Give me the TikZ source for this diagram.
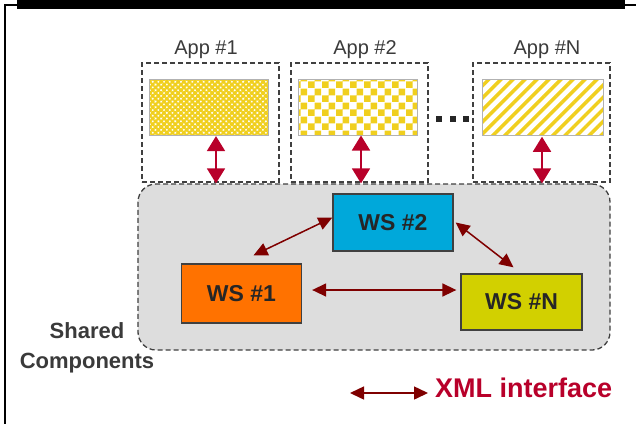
\documentclass[tikz,border=0pt]{standalone}
\usepackage{fontspec}
\setmainfont{Liberation Sans}
\usetikzlibrary{arrows.meta, patterns, patterns.meta, calc}
\definecolor{cyellow}{HTML}{F0CF1E}
\definecolor{cframe}{HTML}{404040}
\definecolor{cshared}{HTML}{DDDDDD}
\definecolor{cwsone}{HTML}{FF7200}
\definecolor{cwstwo}{HTML}{00A8DA}
\definecolor{cwsn}{HTML}{D2D000}
\definecolor{cxml}{HTML}{7F0000}
\definecolor{capi}{HTML}{B8002A}
\definecolor{ctext}{HTML}{3A3A3A}
% checkerboard with larger squares than the built-in one
\pgfdeclarepatternformonly{checks}{\pgfpointorigin}{\pgfqpoint{14bp}{14bp}}{\pgfqpoint{14bp}{14bp}}{%
  \pgfpathrectangle{\pgfpointorigin}{\pgfqpoint{7bp}{7bp}}%
  \pgfpathrectangle{\pgfqpoint{7bp}{7bp}}{\pgfqpoint{7bp}{7bp}}%
  \pgfusepath{fill}}
\tikzset{
  appframe/.style={draw=cframe, dash pattern=on 5bp off 3bp, line width=1.3bp, minimum width=137bp, minimum height=119bp, inner sep=0pt},
  appfill/.style={draw=gray!60, line width=1bp, minimum width=119bp, minimum height=56bp, inner sep=0pt, pattern color=cyellow},
  hatchfill/.style={pattern={Hatch[angle=45, distance=4bp, line width=2.2bp]}},
  checkfill/.style={pattern=checks},
  stripefill/.style={pattern={Lines[angle=45, distance=8.5bp, line width=3.5bp]}},
  sharedbox/.style={draw=cframe, fill=cshared, dash pattern=on 5bp off 3bp, line width=1.3bp, rounded corners=18bp, minimum width=472bp, minimum height=166bp},
  ws/.style={draw=cframe, fill=#1, line width=1.3bp, minimum width=120bp, minimum height=57bp, text=black!85, font=\fontsize{23bp}{26bp}\selectfont\bfseries},
  apparrow/.style={{Triangle[length=15bp, width=18bp]}-{Triangle[length=15bp, width=18bp]}, draw=capi, line width=1.8bp},
  wsarrow/.style={{Triangle[length=14bp, width=13bp]}-{Triangle[length=14bp, width=13bp]}, draw=cxml, line width=1.5bp},
  applabel/.style={text=ctext, font=\fontsize{20bp}{24bp}\selectfont},
}

\begin{document}
\begin{tikzpicture}[x=1bp, y=-1bp]
  \useasboundingbox (0,0) rectangle (636,424);
  % outer frame and title bar
  \draw[line width=1.5bp] (636,5) -- (5,5) -- (5,424);
  \fill (17,0) rectangle (625,9);
  % applications
  \foreach \n/\x/\lx/\t/\p in {1/210.5/206/1/hatchfill, 2/359.5/365/2/checkfill, n/541.5/547/N/stripefill} {
    \node[appframe] (frame\n) at (\x,122.5) {};
    \node[applabel] (lbl\n) at (\lx,50) {App \#\t};
  }
  \node[appfill, hatchfill] (app1) at (208.5,107) {};
  \node[appfill, checkfill] (app2) at (357.5,107) {};
  \node[appfill, stripefill, minimum width=121bp] (appn) at (542.5,107) {};
  % more apps
  \foreach \i in {0,1,2} \fill[black!85] (436+\i*13.5,116) rectangle ++(6,6);
  % shared components
  \node[sharedbox] (shared) at (374,267) {};
  \node[applabel, font=\fontsize{22bp}{30bp}\selectfont\bfseries, align=center] (sharedlbl) at (87,348) {Shared\\Components};
  \foreach \n/\d in {1/7.5, 2/3.5, n/-0.5}
    \draw[apparrow] ($(app\n.south)+(\d,0)$) -- ($(app\n.south |- shared.north)+(\d,0)$);
  % web services
  \node[ws=cwstwo] (ws2) at (393,222.5) {WS \#2};
  \node[ws=cwsone, minimum height=59bp] (ws1) at (241.5,293.5) {WS \#1};
  \node[ws=cwsn, minimum width=121bp, minimum height=56bp] (wsn) at (521.5,302) {WS \#N};
  \draw[wsarrow] ($(ws1.north)+(12,-8)$) -- ($(ws2.west)+(0,-5)$);
  \draw[wsarrow] ($(ws2.east)+(2,0)$) -- ($(wsn.north)+(-8,-6)$);
  \draw[wsarrow] ($(ws1.east)+(10,-3.5)$) -- ($(wsn.west)+(-4,-12)$);
  % legend
  \node[anchor=west, inner sep=0pt, text=capi, font=\fontsize{27bp}{29bp}\selectfont\bfseries] (xml) at (435,388) {XML interface};
  \coordinate (xmlstart) at (350,393);
  \draw[wsarrow] (xmlstart) -- ($(xml.west)+(-7,5)$);
\end{tikzpicture}
\end{document}
